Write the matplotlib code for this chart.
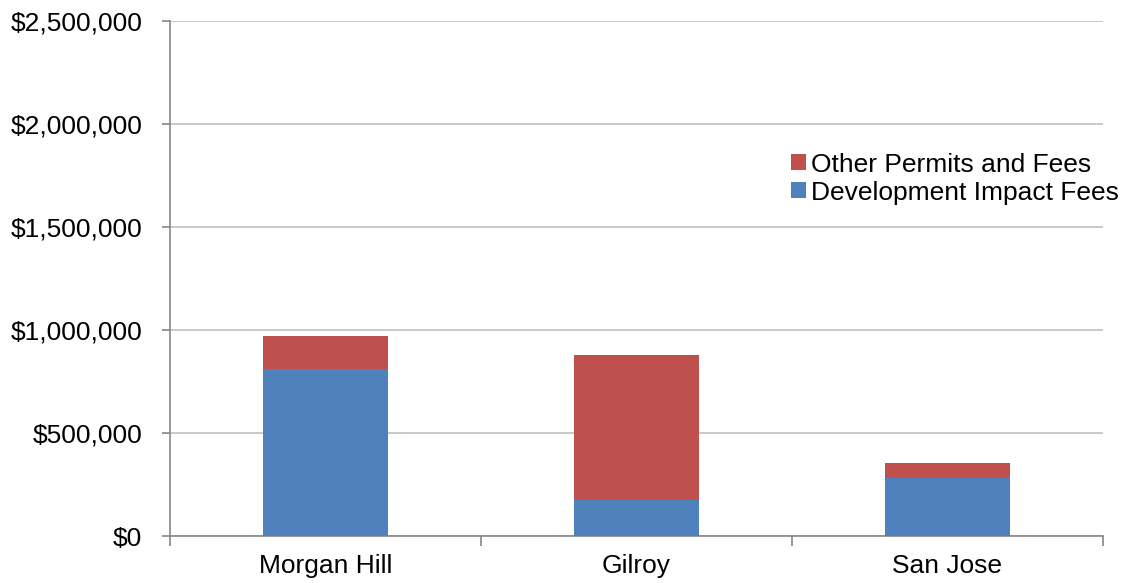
import numpy as np
import matplotlib.pyplot as plt
from matplotlib.ticker import FuncFormatter, FixedLocator

# values
cities = ["Morgan Hill", "Gilroy", "San Jose"]
impact_fees = [810000, 173000, 280000]
other_fees = [161000, 704000, 74000]

blue = "#4F81BD"
red = "#C0504D"
axis_gray = "#868686"
grid_gray = "#BFBFBF"

plt.rcParams['font.family'] = ['Liberation Sans', 'DejaVu Sans']
fs = 19

fig = plt.figure(figsize=(11.25, 5.83), dpi=100)
ax = fig.add_axes([170 / 1125, 47 / 583, 933 / 1125, 515 / 583])

x = np.arange(len(cities))
b1 = ax.bar(x, impact_fees, width=0.4, color=blue, label="Development Impact Fees", zorder=3)
b2 = ax.bar(x, other_fees, width=0.4, bottom=impact_fees, color=red,
            label="Other Permits and Fees", zorder=3)

ax.set_xlim(-0.5, len(cities) - 0.5)
ax.set_ylim(0, 2500000)
ax.set_yticks(np.arange(0, 2500001, 500000))
ax.yaxis.set_major_formatter(FuncFormatter(lambda v, p: "${:,.0f}".format(v)))
ax.yaxis.grid(True, color=grid_gray, linewidth=1.2, zorder=0)

ax.set_xticks(x)
ax.set_xticklabels(cities)
ax.xaxis.set_minor_locator(FixedLocator(np.arange(-0.5, len(cities), 1.0)))
ax.tick_params(axis='x', which='major', length=0, pad=13, labelsize=fs)
ax.tick_params(axis='x', which='minor', length=7, color=axis_gray, width=1.2)
ax.tick_params(axis='y', length=6, color=axis_gray, width=1.2, pad=14, labelsize=fs)

for s in ["top", "right"]:
    ax.spines[s].set_visible(False)
for s in ["left", "bottom"]:
    ax.spines[s].set_color(axis_gray)
    ax.spines[s].set_linewidth(1.2)

ax.legend([b2, b1], ["Other Permits and Fees", "Development Impact Fees"],
          loc="upper left", bbox_to_anchor=(0.654, 0.765), frameon=False,
          fontsize=fs, handlelength=0.57, handleheight=0.57, handletextpad=0.2,
          labelspacing=0.15, borderaxespad=0)

fig.savefig("out.png", dpi=100)
